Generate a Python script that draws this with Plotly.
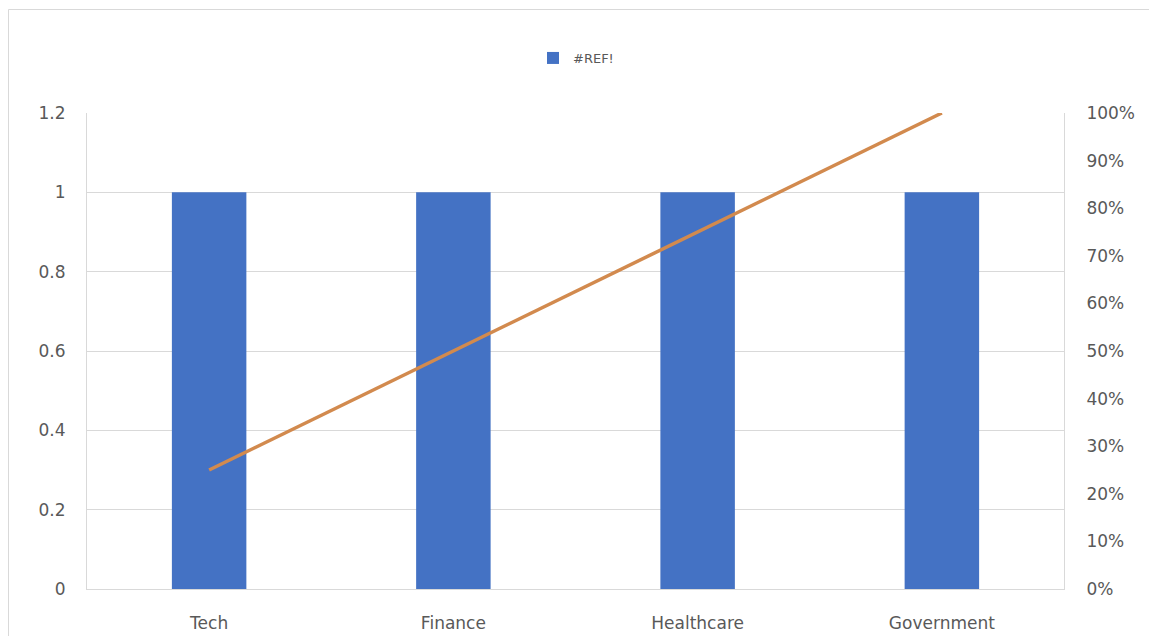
import plotly.graph_objects as go

categories = ["Tech", "Finance", "Healthcare", "Government"]
counts = [1, 1, 1, 1]
cumulative_pct = [0.25, 0.50, 0.75, 1.00]

font_family = "DejaVu Sans, sans-serif"
text_color = "#595959"
grid_color = "#d9d9d9"

W, H = 1141, 628
L, R, T, B = 79, 85, 105, 47
PW, PH = W - L - R, H - T - B

fig = go.Figure()
fig.add_trace(go.Bar(
    x=categories, y=counts, name="#REF!",
    marker=dict(color="#4472C4", line=dict(width=0)),
    width=0.305, showlegend=True,
))
fig.add_trace(go.Scatter(
    x=categories, y=cumulative_pct, yaxis="y2", mode="lines",
    line=dict(color="#D28A4E", width=3.5), showlegend=False,
))

fig.update_layout(
    width=W, height=H,
    margin=dict(l=L, r=R, t=T, b=B, autoexpand=False),
    paper_bgcolor="white", plot_bgcolor="white",
    font=dict(family=font_family, size=17, color=text_color),
    showlegend=True,
    legend=dict(orientation="h", x=(533 - 8 - L) / PW, y=1 + (T - (58 - 8)) / PH,
                xanchor="left", yanchor="middle",
                font=dict(size=13, color=text_color), itemwidth=30),
    xaxis=dict(type="category", range=[-0.5, 3.5], showgrid=False, zeroline=False,
               showline=True, linecolor=grid_color, linewidth=1, ticks="",
               automargin=False,
               ticklabelstandoff=19, tickfont=dict(size=17, color=text_color)),
    yaxis=dict(range=[0, 1.2], tickvals=[0, 0.2, 0.4, 0.6, 0.8, 1, 1.2],
               ticktext=["0", "0.2", "0.4", "0.6", "0.8", "1", "1.2"],
               showgrid=True, gridcolor=grid_color, gridwidth=1, zeroline=False,
               showline=True, linecolor=grid_color, linewidth=1, automargin=False,
               ticks="", ticklabelstandoff=17, tickfont=dict(size=17, color=text_color)),
    yaxis2=dict(range=[0, 1], dtick=0.1, tickformat=".0%", overlaying="y", side="right",
                showgrid=False, zeroline=False, showline=True, linecolor=grid_color,
                linewidth=1, ticks="", ticklabelstandoff=18, automargin=False,
                tickfont=dict(size=17, color=text_color)),
    shapes=[dict(type="rect", xref="paper", yref="paper",
                 x0=(0.5 - L) / PW, x1=1.3, y0=-0.5, y1=1 + (T - 1.5) / PH,
                 line=dict(color="#d9d9d9", width=1), fillcolor="rgba(0,0,0,0)",
                 layer="below")],
)

fig.write_html("out.html")
